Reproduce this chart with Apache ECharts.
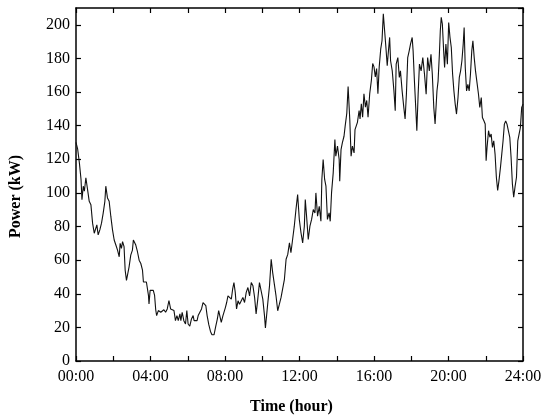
<!DOCTYPE html>
<html>
<head>
<meta charset="utf-8">
<script src="https://cdn.jsdelivr.net/npm/echarts@6/dist/echarts.min.js"></script>
<style>
  html, body { margin: 0; padding: 0; background: #fff; }
  #chart { width: 550px; height: 420px; }
</style>
</head>
<body>
<div id="chart"></div>
<script>
// time of day (hour) and power (kW)
var hours = [
  0.00, 0.09, 0.18, 0.27, 0.32, 0.39, 0.45, 0.53, 0.62, 0.71, 0.80, 0.89, 0.98, 1.07, 1.12, 1.19,
  1.28, 1.37, 1.46, 1.55, 1.60, 1.69, 1.78, 1.87, 1.96, 2.05, 2.14, 2.23, 2.32, 2.37, 2.44, 2.50,
  2.58, 2.64, 2.71, 2.78, 2.85, 2.94, 3.03, 3.08, 3.14, 3.21, 3.30, 3.39, 3.48, 3.57, 3.62, 3.69,
  3.78, 3.83, 3.89, 3.92, 3.98, 4.06, 4.15, 4.22, 4.28, 4.33, 4.42, 4.55, 4.63, 4.72, 4.81, 4.90,
  4.99, 5.08, 5.17, 5.26,
  5.34, 5.42, 5.49, 5.58, 5.63, 5.70, 5.79, 5.88, 5.95, 6.02, 6.11, 6.20, 6.29, 6.34, 6.41, 6.50,
  6.56, 6.65, 6.74, 6.82, 6.91, 6.97, 7.04, 7.13, 7.22, 7.30, 7.41, 7.50, 7.59, 7.66, 7.73, 7.80,
  7.89, 7.94, 8.02, 8.09, 8.16, 8.25, 8.34, 8.41, 8.48, 8.55, 8.62, 8.70, 8.78, 8.87, 8.96, 9.05,
  9.14, 9.23, 9.32, 9.41, 9.50, 9.59, 9.67, 9.76, 9.85, 9.94, 10.03, 10.12, 10.17,
  10.30, 10.39, 10.48, 10.56, 10.65, 10.74, 10.83, 10.92, 11.01, 11.10, 11.19, 11.28, 11.37, 11.46,
  11.54, 11.63, 11.72, 11.81, 11.90, 11.99, 12.08, 12.17, 12.26, 12.31, 12.38, 12.47, 12.56, 12.65,
  12.74, 12.83, 12.88, 12.97, 13.06, 13.15, 13.20, 13.27, 13.35, 13.42, 13.50, 13.59, 13.65, 13.72,
  13.81, 13.90, 13.95, 14.04, 14.13, 14.16, 14.23, 14.30, 14.39, 14.45, 14.54, 14.61, 14.70, 14.77,
  14.84, 14.93, 14.98,
  15.04, 15.11, 15.20, 15.25, 15.32, 15.39, 15.46, 15.54, 15.61, 15.68, 15.77, 15.86, 15.93, 16.00,
  16.07, 16.14, 16.21, 16.28, 16.36, 16.43, 16.50, 16.57, 16.64, 16.71, 16.76, 16.84, 16.89, 16.98,
  17.07, 17.14, 17.19, 17.28, 17.36, 17.42, 17.51, 17.60, 17.67, 17.74, 17.81, 17.89, 17.96, 18.05,
  18.10, 18.17, 18.24, 18.30, 18.37, 18.44, 18.53, 18.62, 18.71, 18.80, 18.88, 18.97, 19.06, 19.13,
  19.21, 19.28,
  19.38, 19.44, 19.51, 19.56, 19.61, 19.67, 19.74, 19.79, 19.86, 19.94, 20.01, 20.08, 20.15, 20.22,
  20.29, 20.36, 20.43, 20.51, 20.58, 20.65, 20.72, 20.79, 20.84, 20.90, 20.97, 21.04, 21.11, 21.18,
  21.25, 21.31, 21.38, 21.45, 21.52, 21.61, 21.68, 21.76, 21.82, 21.90, 21.97, 22.02, 22.07, 22.15,
  22.22, 22.29, 22.36, 22.43, 22.50, 22.57, 22.64, 22.71, 22.79, 22.86, 22.93, 23.00, 23.07, 23.14,
  23.21, 23.29, 23.36, 23.43, 23.50, 23.57, 23.65, 23.72, 23.79, 23.86, 23.93, 24.00
]
var power = [
  130, 126, 118, 108, 96, 104, 101, 109, 102, 95, 93, 82, 76, 75, 81, 75,
  78, 82, 88, 95, 104, 97, 95, 86, 78, 72, 69, 66, 62, 70, 67, 71,
  68, 54, 48, 52, 56, 63, 66, 72, 73, 69, 65, 60, 58, 54, 47, 48,
  47, 46, 39, 34, 42, 41, 42, 39, 30.5, 27, 30, 29, 30, 30.5, 29, 31,
  36, 31, 31, 30,
  24, 27, 24, 28, 24, 29, 24, 22, 30, 22, 20.8, 25, 27, 24, 25, 24,
  27, 29, 31, 34.8, 35.8, 33, 27, 21.6, 17.6, 15.6, 15.6, 20.5, 25, 30, 29, 23,
  27, 28, 31.8, 34.8, 38.7, 37.8, 36.8, 42.7, 46.7, 40.8, 31, 35.8, 33.8, 34.8, 37.8, 34.8,
  40.8, 43.7, 38.7, 46.7, 44.7, 37.8, 28, 36.8, 46.7, 45.7, 36.8, 27, 19.7,
  34.8, 44.7, 60.5, 52.6, 51.6, 38.7, 29.9, 33.8, 37.8, 38.7, 48.6, 60.5, 63.4, 70.3,
  64.4, 72.3, 80.2, 90.1, 99, 84.2, 76.3, 70.3, 80.2, 96, 86.1, 72.3, 80.2, 84.2,
  90.1, 88.1, 100, 86.1, 92, 83.1, 108, 119.9, 108, 104, 84.2, 88.1, 83.1, 100,
  111.9, 131.7, 121.8, 127.8, 119.9, 107, 125.8, 129.7, 133.7, 139.6, 147.5, 163.3, 143.5, 121.8,
  127.8, 123.8, 137.6,
  137, 142, 149, 144, 153, 145, 159, 151, 155, 145, 159, 167, 177, 175,
  169, 174, 159, 175, 185.5, 190.5, 206.5, 196.5, 186.5, 175.6, 182.5, 192.5, 178.6, 172.6,
  160.7, 148.9, 176.6, 180.5, 168.7, 172.6, 160.7, 150.9, 144, 158.7, 180.5, 184.5, 188.5, 192.5,
  184.5, 166.7, 150.9, 137, 158.7, 176.6, 172.6, 180.5, 170.7, 158.7, 180.5, 172.6, 182.5, 170.7,
  150.9, 141,
  160.6, 166.5, 182.5, 196.5, 204.4, 200.5, 184.5, 174.6, 188.5, 176.6, 201.4, 192.5, 186.5, 170.7,
  160.7, 152.8, 146.9, 156.7, 168.7, 172.6, 178.6, 188.5, 198.4, 174.6, 160.7, 164.6, 160.7, 170.7,
  184.5, 190.5, 180.5, 172.6, 166.5, 158.7, 150.9, 156.7, 144.9, 142.9, 141, 119.2, 127.1, 137,
  133.1, 135, 127.1, 131, 123.1, 109.3, 101.4, 107.3, 115.2, 123.1, 131, 140.9, 142.8, 140.9,
  140.9, 133.1, 121.2, 105.4, 97.5, 103.4, 109.3, 131, 135, 138.9, 150.9, 152.8
]

var seriesData = []
for (var i = 0; i < hours.length; i++) {
  seriesData.push([hours[i], power[i]])
}

function pad(n) {
  return (n < 10 ? '0' : '') + n
}

var font = 'Liberation Serif'
var black = '#000'

// frame lines + inward ticks, shared by all four axes
var frameLine = { show: true, onZero: false, lineStyle: { color: black, width: 1.5 } }
var frameTick = { show: true, inside: true, length: 5, lineStyle: { color: black, width: 1.2 } }

var chart = echarts.init(document.getElementById('chart'))
chart.setOption({
  animation: false,
  backgroundColor: '#fff',
  grid: {
    left: 74,
    right: 27,
    top: 8,
    bottom: 58
  },
  xAxis: [
    {
      type: 'value',
      min: 0,
      max: 24,
      interval: 2,
      name: 'Time (hour)',
      nameLocation: 'middle',
      nameGap: 38,
      nameTextStyle: { fontFamily: font, fontSize: 16, fontWeight: 'bold', color: black, padding: [0, 16, 0, 0] },
      axisLine: frameLine,
      axisTick: frameTick,
      axisLabel: {
        margin: 8,
        fontFamily: font,
        fontSize: 16,
        color: black,
        formatter: function (v) {
          return v % 4 === 0 ? pad(v) + ':00' : ''
        }
      },
      splitLine: { show: false }
    },
    {
      type: 'value',
      position: 'top',
      min: 0,
      max: 24,
      interval: 2,
      axisLine: frameLine,
      axisTick: frameTick,
      axisLabel: { show: false },
      splitLine: { show: false }
    }
  ],
  yAxis: [
    {
      type: 'value',
      min: 0,
      max: 210,
      interval: 20,
      name: 'Power (kW)',
      nameLocation: 'middle',
      nameGap: 52,
      nameTextStyle: { fontFamily: font, fontSize: 16, fontWeight: 'bold', color: black, padding: [0, 24, 0, 0] },
      axisLine: frameLine,
      axisTick: frameTick,
      axisLabel: {
        margin: 6,
        fontFamily: font,
        fontSize: 16,
        color: black,
        showMaxLabel: false,
        formatter: function (v) {
          return v % 20 === 0 ? String(v) : ''
        }
      },
      splitLine: { show: false }
    },
    {
      type: 'value',
      position: 'right',
      min: 0,
      max: 210,
      interval: 20,
      axisLine: frameLine,
      axisTick: frameTick,
      axisLabel: { show: false },
      splitLine: { show: false }
    }
  ],
  series: [
    {
      type: 'line',
      xAxisIndex: 0,
      yAxisIndex: 0,
      data: seriesData,
      symbol: 'none',
      lineStyle: { color: '#111', width: 1.1 }
    }
  ]
})
</script>
</body>
</html>
